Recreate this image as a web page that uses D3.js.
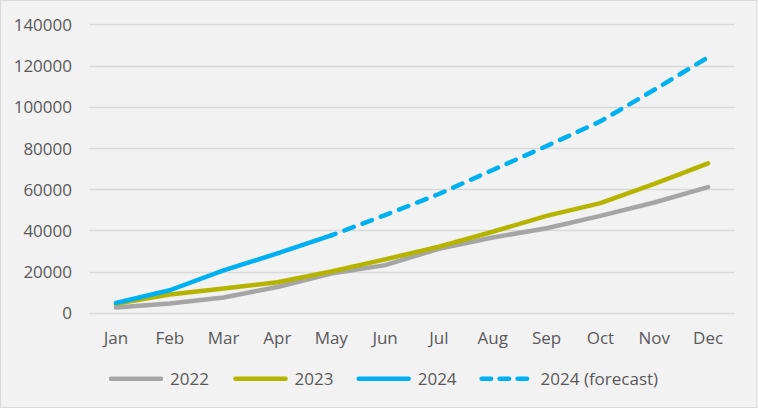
<!DOCTYPE html>
<html><head><meta charset="utf-8">
<script src="https://cdn.jsdelivr.net/npm/d3@7"></script>
<style>
html,body{margin:0;padding:0;background:#fff;}
text{font-family:"Open Sans",sans-serif;fill:#595959;}
</style></head>
<body><svg id="c" width="759" height="410"></svg>
<script>
const months = ["Jan","Feb","Mar","Apr","May","Jun","Jul","Aug","Sep","Oct","Nov","Dec"];
const yTicks = [0,20000,40000,60000,80000,100000,120000,140000];
const s2022 = [2500,4500,7400,12500,19000,23100,31000,36500,41000,47000,53500,61000];
const s2023 = [4300,8800,11700,14800,20000,25900,32000,39300,47000,53200,62500,72500];
const s2024 = [4700,10900,20500,28800,37500];
const s2024f = [null,null,null,null,37500,47400,57600,69300,80900,92900,108200,124000];
const seriesNames = ["2022","2023","2024","2024 (forecast)"];
const colors = ["#a5a5a5","#b5b400","#00b0f0","#00b0f0"];

const svg = d3.select("#c");
svg.append("rect").attr("x",0.5).attr("y",0.5).attr("width",756.5).attr("height",407)
  .attr("fill","#f2f2f2").attr("stroke","#d9d9d9").attr("stroke-width",1);

const x = d3.scaleBand().domain(months).range([89,735]).padding(0);
const y = d3.scaleLinear().domain([0,140000]).range([312.7,24.3]);
const cx = m => x(m) + x.bandwidth()/2;

// gridlines
svg.append("g").selectAll("line").data(yTicks).join("line")
  .attr("x1",89).attr("x2",735).attr("y1",d=>Math.round(y(d))+0.5).attr("y2",d=>Math.round(y(d))+0.5)
  .attr("stroke","#d9d9d9").attr("stroke-width",1.5);

// y axis labels
const yAxis = d3.axisLeft(y).tickValues(yTicks).tickSize(0).tickPadding(0).tickFormat(d3.format("d"));
const gy = svg.append("g").attr("transform","translate(72,0)").call(yAxis);
gy.select(".domain").remove();
gy.selectAll("text").attr("font-size",17).attr("font-family","Open Sans").attr("fill","#595959").attr("dy","0.36em");

// x axis labels
const xAxis = d3.axisBottom(x).tickSize(0).tickPadding(0);
const gx = svg.append("g").attr("transform","translate(0,331)").call(xAxis);
gx.select(".domain").remove();
gx.selectAll("text").attr("font-size",17).attr("font-family","Open Sans").attr("fill","#595959").attr("dy","0.75em");

const line = d3.line().defined(d=>d[1]!=null).x(d=>cx(d[0])).y(d=>y(d[1]));
const mk = arr => arr.map((v,i)=>[months[i],v]);
const dashes = "10,9.5";

[[s2022,0],[s2023,1]].forEach(([arr,i])=>{
  svg.append("path").datum(mk(arr)).attr("d",line).attr("fill","none")
    .attr("stroke",colors[i]).attr("stroke-width",4.5).attr("stroke-linecap","round").attr("stroke-linejoin","round");
});
svg.append("path").datum(mk(s2024f)).attr("d",line).attr("fill","none")
  .attr("stroke",colors[3]).attr("stroke-width",4.5).attr("stroke-linecap","round")
  .attr("stroke-dasharray",dashes).attr("stroke-dashoffset",-14);
svg.append("path").datum(mk(s2024)).attr("d",line).attr("fill","none")
  .attr("stroke",colors[2]).attr("stroke-width",4.5).attr("stroke-linecap","round").attr("stroke-linejoin","round");

// legend
const legX = [109,233.5,356.7,479.6];
const lg = svg.append("g");
seriesNames.forEach((n,i)=>{
  lg.append("line").attr("x1",legX[i]+2).attr("x2",legX[i]+52).attr("y1",378.7).attr("y2",378.7)
    .attr("stroke",colors[i]).attr("stroke-width",4.5).attr("stroke-linecap","round")
    .attr("stroke-dasharray", i===3 ? "9.5,8.5" : null);
  lg.append("text").attr("x",legX[i]+61).attr("y",384.7).attr("font-size",17).text(n);
});
</script></body></html>
